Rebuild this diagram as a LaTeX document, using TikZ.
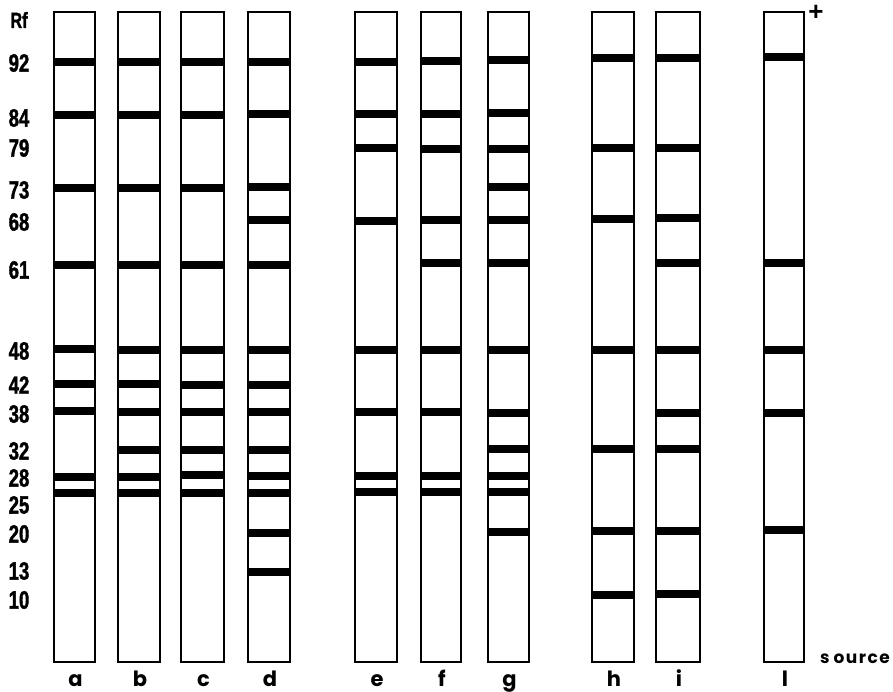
\documentclass[tikz,border=0pt]{standalone}
\usepackage{fontspec}
\setmainfont{Liberation Sans}
\newfontfamily\numfont{Liberation Sans}[FakeStretch=0.74, FakeBold=1.5]
\newfontfamily\letfont{Poppins}
\tikzset{
  lane/.style={draw, line width=2.5pt, inner sep=0pt, outer sep=0pt, anchor=north west, minimum height=650pt},
  band/.style={fill=black},
  rflab/.style={font=\numfont\bfseries\fontsize{25}{25}\selectfont, inner sep=0pt},
  lanelabel/.style={font=\letfont\bfseries\fontsize{21}{21}\selectfont, anchor=base, inner sep=0pt, text depth=0pt},
}
\newcommand\mklane[4]{%
  \node[lane, minimum width={#3-#2}] (#1) at (#2,12) {};
  \foreach \yy in {#4} {\fill[band] (#2,\yy-3.8) rectangle (#3,\yy+3.8);}
  \node[lanelabel] (lab#1) at ({(#2+#3)/2+1},686) {#1};
}
\begin{document}
\begin{tikzpicture}[x=1pt, y=-1pt]
\useasboundingbox (0,0) rectangle (893,692);
\fill[white] (0,0) rectangle (893,692);
\mklane{a}{54}{95}{62,115,188,265,349,384,411,477,493}
\mklane{b}{118}{160}{62,115,188,265,350,384,412,450,477,493}
\mklane{c}{181}{224}{62,115,188,265,350,385,412,450,475,493}
\mklane{d}{248}{290}{62,114,187,220,265,350,385,412,450,476,493,533,572}
\mklane{e}{355}{397}{62,114,148,221,350,412,476,492}
\mklane{f}{421}{461}{61,114,149,220,263,350,412,476,492}
\mklane{g}{488}{529}{60,113,149,187,220,263,350,413,449,476,492,532}
\mklane{h}{592}{634}{58,148,219,350,449,531,595}
\mklane{i}{656}{700}{58,148,218,263,350,413,449,531,594}
\mklane{l}{764}{804}{57,263,350,413,530}
\node[rflab, font=\numfont\bfseries\fontsize{22}{22}\selectfont] (rf) at (19,20) {Rf};
\foreach \v/\yy in {92/63,84/118,79/148,73/190,68/222,61/270,48/351,42/385,38/414,32/451,28/478,25/505,20/534,13/571,10/600}
  {\node[rflab] (rf\v) at (19,\yy) {\v};}
\node[font=\bfseries\fontsize{26}{26}\selectfont, inner sep=0pt] (plus) at (816,13) {+};
\node[lanelabel, font=\letfont\bfseries\fontsize{17}{17}\selectfont] (source) at (855,663) {s\kern4pt o\kern1.5pt u\kern1.5pt r\kern1.5pt c\kern1.5pt e};
\end{tikzpicture}
\end{document}
